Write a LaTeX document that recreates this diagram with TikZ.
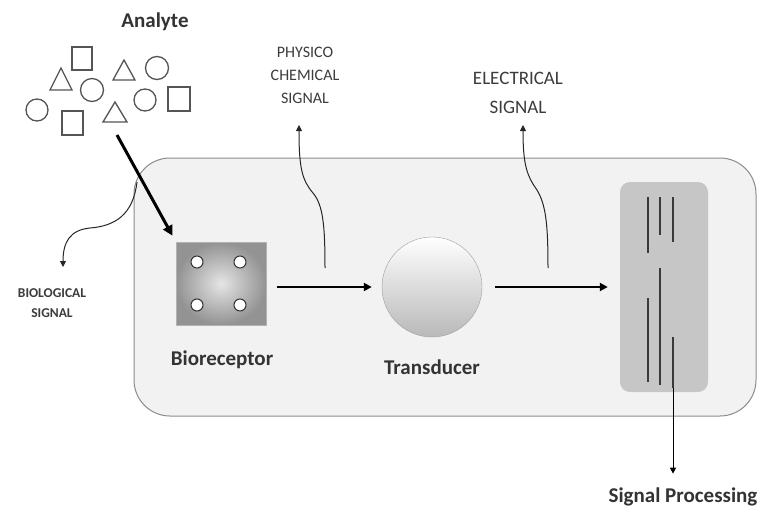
\documentclass[tikz,border=0pt]{standalone}
\usepackage{fontspec}
\setmainfont{Carlito}
\usetikzlibrary{arrows.meta,shapes.geometric}
\definecolor{boxfill}{HTML}{F2F2F2}
\definecolor{boxline}{HTML}{8C8C8C}
\definecolor{labeltext}{HTML}{333333}
\definecolor{smalltext}{HTML}{3C3C3C}
\definecolor{shapeline}{HTML}{555555}
\definecolor{panelfill}{HTML}{C6C6C6}
\definecolor{stripe}{HTML}{3A3A3A}
\begin{document}
\begin{tikzpicture}[x=1pt,y=-1pt,
  bigtitle/.style={text=labeltext, font=\fontsize{21}{24}\selectfont\bfseries, inner sep=0pt},
  smalllabel/.style={text=smalltext, align=center, inner sep=0pt},
  molecule/.style={draw=shapeline, line width=1.3pt},
  flow/.style={line width=2pt, -{Triangle[width=8pt,length=8pt]}},
  wavy/.style={draw=black!85, line width=1pt, -{Triangle[width=6pt,length=6pt]}},
  stripeline/.style={draw=stripe, line width=1.8pt}]
\useasboundingbox (0,0) rectangle (761,511);
\fill[white] (0,0) rectangle (761,511);

% sensor housing
\node[draw=boxline, fill=boxfill, line width=1pt, rounded corners=36pt,
      minimum width=622pt, minimum height=258pt, inner sep=0pt] (housing) at (445,287) {};

% analyte cloud
\node[bigtitle] (analyte) at (155,22) {Analyte};
\draw[molecule] (72,47) rectangle (92,70);
\draw[molecule] (62,111) rectangle (83,135);
\draw[molecule] (168,87) rectangle (190,111);
\draw[molecule] (50,90) -- (61,68) -- (72,90) -- cycle;
\draw[molecule] (113,80) -- (124,60) -- (135,80) -- cycle;
\draw[molecule] (103,122) -- (115,102) -- (127,122) -- cycle;
\draw[molecule] (37,110) circle (11);
\draw[molecule] (92,90) circle (11.5);
\draw[molecule] (157,68) circle (11.5);
\draw[molecule] (145,100) circle (11);
\coordinate (cloud) at (117,135);

% bioreceptor
\node[draw=gray!60, inner color=gray!20, outer color=gray!85, minimum width=90pt,
      minimum height=83pt, inner sep=0pt] (bio) at (221,283.5) {};
\foreach \hx/\hy in {197/262, 240/262, 197/305, 240/305}
  \draw[fill=white, draw=black!80, line width=1pt] (\hx,\hy) circle (6);
\node[bigtitle] (biolabel) at (222,360) {Bioreceptor};

% transducer
\node[circle, draw=gray!75, top color=white, bottom color=gray!55, minimum size=100pt,
      inner sep=0pt] (trans) at (432,287) {};
\node[bigtitle] (translabel) at (432,367) {Transducer};

% signal processing panel
\node[fill=panelfill, rounded corners=10pt, minimum width=88pt, minimum height=210pt,
      inner sep=0pt] (panel) at (664,287) {};
\draw[stripeline] (648,197) -- (648,253);
\draw[stripeline] (660,197) -- (660,235);
\draw[stripeline] (673,197) -- (673,242);
\draw[stripeline] (660,268) -- (660,385);
\draw[stripeline] (648,298) -- (648,382);
\draw[stripeline] (673,337) -- (673,388);
\coordinate (panelout) at (673,388);
\node[bigtitle] (splabel) at (683,497) {Signal Processing};

% main signal path
\draw[line width=3pt, -{Triangle[width=10pt,length=10pt]}, shorten >=7pt] (cloud) -- (bio.north west);
\draw[flow, shorten <=11pt, shorten >=10pt] (bio.east |- trans.west) -- (trans.west);
\draw[flow, shorten <=13pt, shorten >=12pt] (trans.east) -- (panel.west);
\draw[line width=1pt, -{Triangle[width=6pt,length=6pt]}, shorten >=14pt] (panelout) -- (panelout |- splabel.north);

% side signals
\node[smalllabel, font=\fontsize{13.5}{13.5}\selectfont\bfseries] (bioname) at (52,293) {BIOLOGICAL};
\node[smalllabel, font=\fontsize{13.5}{13.5}\selectfont\bfseries] (biosig) at (52,313) {SIGNAL};
\node[smalllabel, font=\fontsize{16}{16}\selectfont] (pcname1) at (305,52) {PHYSICO};
\node[smalllabel, font=\fontsize{16}{16}\selectfont] (pcname2) at (305,75) {CHEMICAL};
\node[smalllabel, font=\fontsize{16}{16}\selectfont] (pcname3) at (305,98) {SIGNAL};
\node[smalllabel, font=\fontsize{19}{19}\selectfont] (elname1) at (518,78) {ELECTRICAL};
\node[smalllabel, font=\fontsize{19}{19}\selectfont] (elname2) at (518,107) {SIGNAL};

\coordinate (biostart) at (137,182);
\coordinate (pcstart) at (325,268);
\coordinate (elstart) at (548,268);
\coordinate (biotip) at (63,267);
\coordinate (pctip) at (299,125);
\coordinate (eltip) at (523,125);

\draw[wavy] (biostart) .. controls (133,215) and (115,226) .. (90,228)
  .. controls (70,230) and (63,242) .. (biotip);
\draw[wavy] (pcstart) .. controls (325,225) and (323,205) .. (313,193)
  .. controls (302,180) and (299,168) .. (pctip);
\draw[wavy] (elstart) .. controls (548,225) and (546,205) .. (537,190)
  .. controls (527,176) and (523,165) .. (eltip);
\end{tikzpicture}
\end{document}
